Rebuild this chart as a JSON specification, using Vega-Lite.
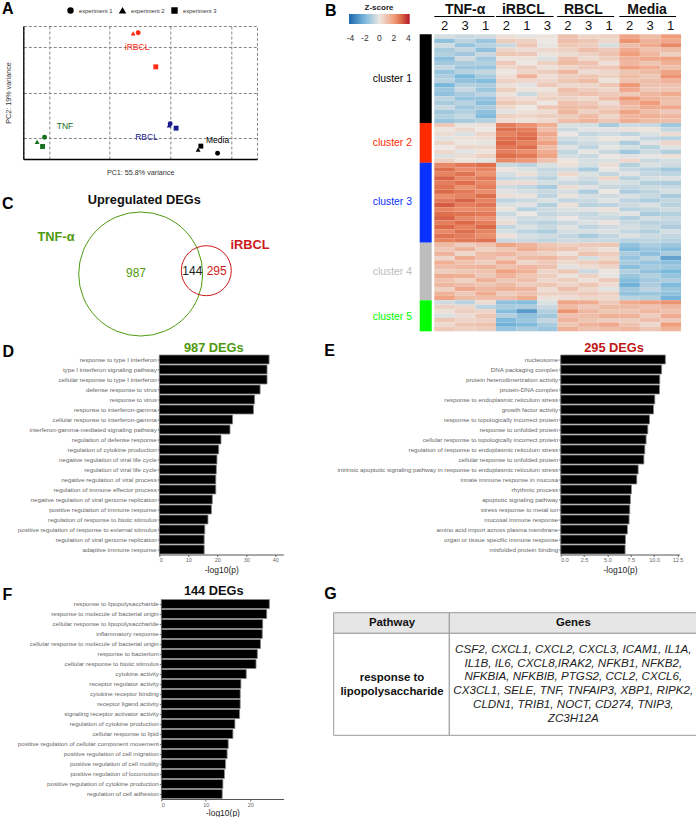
{"$schema":"https://vega.github.io/schema/vega-lite/v6.json","padding":0,"config":{"font":"Liberation Sans","view":{"stroke":null}},"datasets":{"blank":[{"a":1}]},"spacing":0,"bounds":"flush","hconcat":[
{"spacing":433.3,"bounds":"flush","hconcat":[{"width":0.01,"height":0.01,"data":{"name":"blank"},"mark":{"type":"rect","opacity":0},"encoding":{}},{"spacing":0,"bounds":"flush","vconcat":[{"width":0.01,"height":0.01,"data":{"name":"blank"},"mark":{"type":"rect","opacity":0},"encoding":{}},
{"width":246.7,"height":33.3,"title":{"text":"B","anchor":"start","frame":"group","offset":0,"dx":-109.3,"dy":31,"fontSize":16,"fontWeight":"bold","color":"black","baseline":"alphabetic"},"data":{"values":[{"g":"TNF-α","s":0,"e":2.93,"m":1.5},{"g":"iRBCL","s":3,"e":5.8,"m":4.33},{"g":"RBCL","s":5.98,"e":8.75,"m":7.25},{"g":"Media","s":9,"e":11.76,"m":10.35}]},"layer":[
{"mark":{"type":"rule","color":"black","strokeWidth":1},"encoding":{"x":{"field":"s","type":"quantitative","scale":{"domain":[0,12],"nice":false},"axis":null},"x2":{"field":"e"},"y":{"datum":17.8,"type":"quantitative","scale":{"domain":[0,33.3],"nice":false},"axis":null}}},
{"mark":{"type":"text","fontSize":14,"fontWeight":"bold","baseline":"bottom","dy":0,"color":"#111"},"encoding":{"x":{"field":"m","type":"quantitative"},"y":{"datum":17.8,"type":"quantitative"},"text":{"field":"g"}}}
]}]}]},
{"spacing":22.3,"bounds":"flush","hconcat":[{"width":0.01,"height":0.01,"data":{"name":"blank"},"mark":{"type":"rect","opacity":0},"encoding":{}},{"spacing":25,"bounds":"flush","vconcat":[{"width":0.01,"height":0.01,"data":{"name":"blank"},"mark":{"type":"rect","opacity":0},"encoding":{}},
{"width":233.7,"height":133,"view":{"stroke":"#888","strokeDash":[3,2]},"title":{"text":"A","anchor":"start","frame":"group","offset":0,"dx":-21.3,"dy":3.7,"fontSize":16,"fontWeight":"bold","color":"black","baseline":"alphabetic"},"layer":[
{"data":{"values":[{"pc1":-63,"pc2":-12,"g":"TNF","e":"experiment 1"},{"pc1":-67.9,"pc2":-14.6,"g":"TNF","e":"experiment 2"},{"pc1":-64.3,"pc2":-17.1,"g":"TNF","e":"experiment 3"},{"pc1":-1.3,"pc2":45.6,"g":"iRBCL","e":"experiment 1"},{"pc1":-4.6,"pc2":45.2,"g":"iRBCL","e":"experiment 2"},{"pc1":10.3,"pc2":26.8,"g":"iRBCL","e":"experiment 3"},{"pc1":19.8,"pc2":-4.6,"g":"RBCL","e":"experiment 1"},{"pc1":19.1,"pc2":-5.5,"g":"RBCL","e":"experiment 2"},{"pc1":23.7,"pc2":-7,"g":"RBCL","e":"experiment 3"},{"pc1":51,"pc2":-20.8,"g":"Media","e":"experiment 1"},{"pc1":38.2,"pc2":-18.8,"g":"Media","e":"experiment 2"},{"pc1":40,"pc2":-16.9,"g":"Media","e":"experiment 3"}]},"mark":{"type":"point","filled":true,"opacity":1,"size":24},"encoding":{"x":{"field":"pc1","type":"quantitative","scale":{"domain":[-77,77],"nice":false,"zero":false},"axis":{"values":[-60,-40,-20,0,20,40,60],"labelExpr":"datum.value==-40?'-40':datum.value==0||datum.value==40?datum.label:''","title":"PC1: 55.8% variance","titleFontSize":7.2,"titleFontWeight":"normal","titleColor":"#333","titlePadding":1,"labelFontSize":5,"labelColor":"#777","labelPadding":3,"tickSize":0,"grid":true,"gridColor":"#888","gridDash":[3,2],"gridOpacity":1,"domainColor":"black","domainWidth":1.3}},"y":{"field":"pc2","type":"quantitative","scale":{"domain":[-24,49.3],"nice":false,"zero":false},"axis":{"values":[-12.5,0,12.5,25,37.5],"labelExpr":"datum.value==25||datum.value==0?datum.label:''","title":"PC2: 19% variance","titleFontSize":7.2,"titleFontWeight":"normal","titleColor":"#333","titlePadding":9,"labelFontSize":5,"labelColor":"#777","labelPadding":2,"tickSize":0,"grid":true,"gridColor":"#888","gridDash":[3,2],"gridOpacity":1,"domainColor":"black","domainWidth":1.3}},"color":{"field":"g","type":"nominal","scale":{"domain":["TNF","iRBCL","RBCL","Media"],"range":["#12701a","#ff2a12","#1a1a8e","#000000"]},"legend":null},"shape":{"field":"e","type":"nominal","scale":{"domain":["experiment 1","experiment 2","experiment 3"],"range":["circle","triangle-up","square"]},"legend":{"orient":"none","legendX":67,"legendY":7,"direction":"horizontal","columns":3,"title":null,"labelFontSize":5.8,"labelColor":"#333","symbolFillColor":"black","symbolStrokeColor":"black","symbolSize":24,"columnPadding":4,"labelOffset":5}}}},
{"data":{"values":[{"pc1":-2,"pc2":37.5,"g":"iRBCL"},{"pc1":-49.5,"pc2":-5.8,"g":"TNF"},{"pc1":4.2,"pc2":-12,"g":"RBCL"},{"pc1":51,"pc2":-13.4,"g":"Media"}]},"mark":{"type":"text","fontSize":8.5},"encoding":{"x":{"field":"pc1","type":"quantitative"},"y":{"field":"pc2","type":"quantitative"},"text":{"field":"g"},"color":{"field":"g","type":"nominal","legend":null}}}
]}]}]},
{"spacing":418.7,"bounds":"flush","hconcat":[{"width":0.01,"height":0.01,"data":{"name":"blank"},"mark":{"type":"rect","opacity":0},"encoding":{}},{"spacing":33.3,"bounds":"flush","vconcat":[{"width":0.01,"height":0.01,"data":{"name":"blank"},"mark":{"type":"rect","opacity":0},"encoding":{}},
{"width":12,"height":297,"data":{"values":[{"k":"bar","cl":"cluster 1","s":0,"e":20,"m":10},{"k":"bar","cl":"cluster 2","s":20,"e":29,"m":24.5},{"k":"bar","cl":"cluster 3","s":29,"e":47,"m":37.8},{"k":"bar","cl":"cluster 4","s":47,"e":60,"m":53.6},{"k":"bar","cl":"cluster 5","s":60,"e":67,"m":63.7}]},"layer":[
{"mark":{"type":"rect"},"encoding":{"x":{"field":"k","type":"nominal","scale":{"paddingInner":0,"paddingOuter":0},"axis":null},"y":{"field":"s","type":"quantitative","scale":{"domain":[67,0],"nice":false,"zero":false},"axis":null},"y2":{"field":"e"},"color":{"field":"cl","type":"nominal","scale":{"domain":["cluster 1","cluster 2","cluster 3","cluster 4","cluster 5"],"range":["#000000","#ff2a00","#0a32ff","#bdbdbd","#00ff00"]},"legend":null}}},
{"mark":{"type":"text","fontSize":10.4,"align":"right","dx":-13.7},"encoding":{"x":{"field":"k","type":"nominal"},"y":{"field":"m","type":"quantitative"},"text":{"field":"cl"},"color":{"field":"cl","type":"nominal","legend":null}}}
]}]}]},
{"spacing":433.3,"bounds":"flush","hconcat":[{"width":0.01,"height":0.01,"data":{"name":"blank"},"mark":{"type":"rect","opacity":0},"encoding":{}},{"spacing":33.3,"bounds":"flush","vconcat":[{"width":0.01,"height":0.01,"data":{"name":"blank"},"mark":{"type":"rect","opacity":0},"encoding":{}},
{"width":246.7,"height":297,"data":{"values":[
{"r":1,"c":"T2","z":-0.4},{"r":1,"c":"T3","z":-0.6},{"r":1,"c":"T1","z":-0.5},{"r":1,"c":"I2","z":0.2},{"r":1,"c":"I1","z":-0.1},{"r":1,"c":"I3","z":0.1},{"r":1,"c":"R2","z":1},{"r":1,"c":"R3","z":0.5},{"r":1,"c":"R1","z":0.6},{"r":1,"c":"M2","z":1.8},{"r":1,"c":"M3","z":1.2},{"r":1,"c":"M1","z":2},
{"r":2,"c":"T2","z":-1.6},{"r":2,"c":"T3","z":-0.8},{"r":2,"c":"T1","z":-1.4},{"r":2,"c":"I2","z":0.7},{"r":2,"c":"I1","z":0.6},{"r":2,"c":"I3","z":0},{"r":2,"c":"R2","z":1.1},{"r":2,"c":"R3","z":0.9},{"r":2,"c":"R1","z":0.4},{"r":2,"c":"M2","z":2.2},{"r":2,"c":"M3","z":1.4},{"r":2,"c":"M1","z":1.7},
{"r":3,"c":"T2","z":-0.5},{"r":3,"c":"T3","z":-1.5},{"r":3,"c":"T1","z":-0.9},{"r":3,"c":"I2","z":-0.6},{"r":3,"c":"I1","z":0.9},{"r":3,"c":"I3","z":-0.1},{"r":3,"c":"R2","z":0.9},{"r":3,"c":"R3","z":0.7},{"r":3,"c":"R1","z":-0.4},{"r":3,"c":"M2","z":1.1},{"r":3,"c":"M3","z":1.6},{"r":3,"c":"M1","z":2.4},
{"r":4,"c":"T2","z":-1.2},{"r":4,"c":"T3","z":-0.7},{"r":4,"c":"T1","z":-1.6},{"r":4,"c":"I2","z":0.5},{"r":4,"c":"I1","z":0.3},{"r":4,"c":"I3","z":0.4},{"r":4,"c":"R2","z":0.6},{"r":4,"c":"R3","z":1.1},{"r":4,"c":"R1","z":0.8},{"r":4,"c":"M2","z":1.6},{"r":4,"c":"M3","z":1},{"r":4,"c":"M1","z":1.2},
{"r":5,"c":"T2","z":-1},{"r":5,"c":"T3","z":-1.3},{"r":5,"c":"T1","z":-0.6},{"r":5,"c":"I2","z":0.9},{"r":5,"c":"I1","z":0.8},{"r":5,"c":"I3","z":0.1},{"r":5,"c":"R2","z":0.3},{"r":5,"c":"R3","z":0.6},{"r":5,"c":"R1","z":1},{"r":5,"c":"M2","z":2},{"r":5,"c":"M3","z":1.3},{"r":5,"c":"M1","z":0.6},
{"r":6,"c":"T2","z":-1.7},{"r":6,"c":"T3","z":-0.5},{"r":6,"c":"T1","z":-1.3},{"r":6,"c":"I2","z":0.1},{"r":6,"c":"I1","z":0.2},{"r":6,"c":"I3","z":-0.3},{"r":6,"c":"R2","z":1},{"r":6,"c":"R3","z":0.4},{"r":6,"c":"R1","z":0.7},{"r":6,"c":"M2","z":1.5},{"r":6,"c":"M3","z":1.7},{"r":6,"c":"M1","z":1.9},
{"r":7,"c":"T2","z":-1.3},{"r":7,"c":"T3","z":-1.1},{"r":7,"c":"T1","z":-1},{"r":7,"c":"I2","z":0.8},{"r":7,"c":"I1","z":0},{"r":7,"c":"I3","z":0.6},{"r":7,"c":"R2","z":1.2},{"r":7,"c":"R3","z":1},{"r":7,"c":"R1","z":0.2},{"r":7,"c":"M2","z":1.3},{"r":7,"c":"M3","z":0.9},{"r":7,"c":"M1","z":1.5},
{"r":8,"c":"T2","z":-0.7},{"r":8,"c":"T3","z":-1.4},{"r":8,"c":"T1","z":-1.5},{"r":8,"c":"I2","z":0.4},{"r":8,"c":"I1","z":0.7},{"r":8,"c":"I3","z":0.2},{"r":8,"c":"R2","z":0.5},{"r":8,"c":"R3","z":0.8},{"r":8,"c":"R1","z":0.9},{"r":8,"c":"M2","z":1.9},{"r":8,"c":"M3","z":1.5},{"r":8,"c":"M1","z":1.1},
{"r":9,"c":"T2","z":-1.5},{"r":9,"c":"T3","z":-0.9},{"r":9,"c":"T1","z":-0.7},{"r":9,"c":"I2","z":0},{"r":9,"c":"I1","z":0.5},{"r":9,"c":"I3","z":0.7},{"r":9,"c":"R2","z":1.3},{"r":9,"c":"R3","z":0.3},{"r":9,"c":"R1","z":0.5},{"r":9,"c":"M2","z":0.9},{"r":9,"c":"M3","z":1.2},{"r":9,"c":"M1","z":1.8},
{"r":10,"c":"T2","z":-1.1},{"r":10,"c":"T3","z":-2},{"r":10,"c":"T1","z":-1.2},{"r":10,"c":"I2","z":0.3},{"r":10,"c":"I1","z":1.4},{"r":10,"c":"I3","z":0.3},{"r":10,"c":"R2","z":0.7},{"r":10,"c":"R3","z":0.9},{"r":10,"c":"R1","z":0.6},{"r":10,"c":"M2","z":1.2},{"r":10,"c":"M3","z":0.8},{"r":10,"c":"M1","z":2.2},
{"r":11,"c":"T2","z":-0.9},{"r":11,"c":"T3","z":-1.6},{"r":11,"c":"T1","z":-1.8},{"r":11,"c":"I2","z":0.6},{"r":11,"c":"I1","z":0.4},{"r":11,"c":"I3","z":0.5},{"r":11,"c":"R2","z":0.9},{"r":11,"c":"R3","z":1.2},{"r":11,"c":"R1","z":0.1},{"r":11,"c":"M2","z":1},{"r":11,"c":"M3","z":1.1},{"r":11,"c":"M1","z":1.4},
{"r":12,"c":"T2","z":-2},{"r":12,"c":"T3","z":-1},{"r":12,"c":"T1","z":-1.1},{"r":12,"c":"I2","z":0.2},{"r":12,"c":"I1","z":-0.2},{"r":12,"c":"I3","z":0.8},{"r":12,"c":"R2","z":0.4},{"r":12,"c":"R3","z":0.5},{"r":12,"c":"R1","z":0.9},{"r":12,"c":"M2","z":2.1},{"r":12,"c":"M3","z":1},{"r":12,"c":"M1","z":1},
{"r":13,"c":"T2","z":-1.4},{"r":13,"c":"T3","z":-0.6},{"r":13,"c":"T1","z":-1.4},{"r":13,"c":"I2","z":0.7},{"r":13,"c":"I1","z":0.1},{"r":13,"c":"I3","z":0.1},{"r":13,"c":"R2","z":1.1},{"r":13,"c":"R3","z":0.7},{"r":13,"c":"R1","z":0.4},{"r":13,"c":"M2","z":1.7},{"r":13,"c":"M3","z":0.8},{"r":13,"c":"M1","z":0.9},
{"r":14,"c":"T2","z":-1.6},{"r":14,"c":"T3","z":-1.2},{"r":14,"c":"T1","z":-0.8},{"r":14,"c":"I2","z":0.1},{"r":14,"c":"I1","z":-0.6},{"r":14,"c":"I3","z":0.4},{"r":14,"c":"R2","z":0.8},{"r":14,"c":"R3","z":1},{"r":14,"c":"R1","z":0.8},{"r":14,"c":"M2","z":0.8},{"r":14,"c":"M3","z":1.3},{"r":14,"c":"M1","z":1.6},
{"r":15,"c":"T2","z":-0.8},{"r":15,"c":"T3","z":-1.5},{"r":15,"c":"T1","z":-1.5},{"r":15,"c":"I2","z":0.5},{"r":15,"c":"I1","z":0.3},{"r":15,"c":"I3","z":0.6},{"r":15,"c":"R2","z":0.6},{"r":15,"c":"R3","z":0.4},{"r":15,"c":"R1","z":1.1},{"r":15,"c":"M2","z":2.1},{"r":15,"c":"M3","z":1.4},{"r":15,"c":"M1","z":1.2},
{"r":16,"c":"T2","z":-1.2},{"r":16,"c":"T3","z":-0.9},{"r":16,"c":"T1","z":-1.7},{"r":16,"c":"I2","z":0.9},{"r":16,"c":"I1","z":0.6},{"r":16,"c":"I3","z":0},{"r":16,"c":"R2","z":1},{"r":16,"c":"R3","z":0.8},{"r":16,"c":"R1","z":0.3},{"r":16,"c":"M2","z":1.4},{"r":16,"c":"M3","z":2},{"r":16,"c":"M1","z":1},
{"r":17,"c":"T2","z":-0.6},{"r":17,"c":"T3","z":-1.3},{"r":17,"c":"T1","z":-1.1},{"r":17,"c":"I2","z":0.4},{"r":17,"c":"I1","z":0},{"r":17,"c":"I3","z":0.9},{"r":17,"c":"R2","z":1.2},{"r":17,"c":"R3","z":1.1},{"r":17,"c":"R1","z":0.7},{"r":17,"c":"M2","z":1.1},{"r":17,"c":"M3","z":1.6},{"r":17,"c":"M1","z":1.7},
{"r":18,"c":"T2","z":-1.3},{"r":18,"c":"T3","z":-1},{"r":18,"c":"T1","z":-1.6},{"r":18,"c":"I2","z":-0.2},{"r":18,"c":"I1","z":0.2},{"r":18,"c":"I3","z":0.3},{"r":18,"c":"R2","z":1.3},{"r":18,"c":"R3","z":0.6},{"r":18,"c":"R1","z":1},{"r":18,"c":"M2","z":1.8},{"r":18,"c":"M3","z":1.1},{"r":18,"c":"M1","z":0.8},
{"r":19,"c":"T2","z":-1},{"r":19,"c":"T3","z":-0.7},{"r":19,"c":"T1","z":-1.9},{"r":19,"c":"I2","z":0.6},{"r":19,"c":"I1","z":0.5},{"r":19,"c":"I3","z":0.7},{"r":19,"c":"R2","z":0.7},{"r":19,"c":"R3","z":1.2},{"r":19,"c":"R1","z":0.5},{"r":19,"c":"M2","z":1.3},{"r":19,"c":"M3","z":1.5},{"r":19,"c":"M1","z":1.3},
{"r":20,"c":"T2","z":-1.5},{"r":20,"c":"T3","z":-1.2},{"r":20,"c":"T1","z":-1},{"r":20,"c":"I2","z":0.3},{"r":20,"c":"I1","z":0.1},{"r":20,"c":"I3","z":0.4},{"r":20,"c":"R2","z":1.1},{"r":20,"c":"R3","z":1.4},{"r":20,"c":"R1","z":0.9},{"r":20,"c":"M2","z":1.6},{"r":20,"c":"M3","z":1.2},{"r":20,"c":"M1","z":1.1},
{"r":21,"c":"T2","z":0.8},{"r":21,"c":"T3","z":-0.1},{"r":21,"c":"T1","z":0.2},{"r":21,"c":"I2","z":2.6},{"r":21,"c":"I1","z":2.2},{"r":21,"c":"I3","z":1.5},{"r":21,"c":"R2","z":-0.3},{"r":21,"c":"R3","z":-0.4},{"r":21,"c":"R1","z":-1.2},{"r":21,"c":"M2","z":-0.5},{"r":21,"c":"M3","z":-0.6},{"r":21,"c":"M1","z":-1.3},
{"r":22,"c":"T2","z":0.1},{"r":22,"c":"T3","z":0.4},{"r":22,"c":"T1","z":0},{"r":22,"c":"I2","z":2.9},{"r":22,"c":"I1","z":2.6},{"r":22,"c":"I3","z":1.1},{"r":22,"c":"R2","z":-0.6},{"r":22,"c":"R3","z":-0.2},{"r":22,"c":"R1","z":-0.2},{"r":22,"c":"M2","z":0.2},{"r":22,"c":"M3","z":0.1},{"r":22,"c":"M1","z":-0.7},
{"r":23,"c":"T2","z":0.3},{"r":23,"c":"T3","z":-0.3},{"r":23,"c":"T1","z":0.5},{"r":23,"c":"I2","z":2.5},{"r":23,"c":"I1","z":2.8},{"r":23,"c":"I3","z":1.7},{"r":23,"c":"R2","z":0},{"r":23,"c":"R3","z":-0.7},{"r":23,"c":"R1","z":-0.5},{"r":23,"c":"M2","z":-0.8},{"r":23,"c":"M3","z":-0.3},{"r":23,"c":"M1","z":0.3},
{"r":24,"c":"T2","z":-0.2},{"r":24,"c":"T3","z":0.2},{"r":24,"c":"T1","z":0.3},{"r":24,"c":"I2","z":2.8},{"r":24,"c":"I1","z":3},{"r":24,"c":"I3","z":1.4},{"r":24,"c":"R2","z":-0.5},{"r":24,"c":"R3","z":-0.3},{"r":24,"c":"R1","z":0.1},{"r":24,"c":"M2","z":-0.1},{"r":24,"c":"M3","z":-0.7},{"r":24,"c":"M1","z":-0.9},
{"r":25,"c":"T2","z":0.5},{"r":25,"c":"T3","z":0},{"r":25,"c":"T1","z":-0.1},{"r":25,"c":"I2","z":3},{"r":25,"c":"I1","z":2.5},{"r":25,"c":"I3","z":1.9},{"r":25,"c":"R2","z":-0.8},{"r":25,"c":"R3","z":-0.5},{"r":25,"c":"R1","z":-0.4},{"r":25,"c":"M2","z":-1.1},{"r":25,"c":"M3","z":-0.2},{"r":25,"c":"M1","z":0.5},
{"r":26,"c":"T2","z":0},{"r":26,"c":"T3","z":0.5},{"r":26,"c":"T1","z":0.4},{"r":26,"c":"I2","z":2.7},{"r":26,"c":"I1","z":2.9},{"r":26,"c":"I3","z":1.2},{"r":26,"c":"R2","z":-0.2},{"r":26,"c":"R3","z":-0.8},{"r":26,"c":"R1","z":-0.1},{"r":26,"c":"M2","z":-0.4},{"r":26,"c":"M3","z":-0.9},{"r":26,"c":"M1","z":-0.2},
{"r":27,"c":"T2","z":0.4},{"r":27,"c":"T3","z":-0.2},{"r":27,"c":"T1","z":0.1},{"r":27,"c":"I2","z":2.6},{"r":27,"c":"I1","z":2.3},{"r":27,"c":"I3","z":1.6},{"r":27,"c":"R2","z":-0.7},{"r":27,"c":"R3","z":-0.1},{"r":27,"c":"R1","z":-0.6},{"r":27,"c":"M2","z":-1.3},{"r":27,"c":"M3","z":-0.5},{"r":27,"c":"M1","z":-1},
{"r":28,"c":"T2","z":-0.3},{"r":28,"c":"T3","z":0.3},{"r":28,"c":"T1","z":0.6},{"r":28,"c":"I2","z":2.9},{"r":28,"c":"I1","z":2.7},{"r":28,"c":"I3","z":1.8},{"r":28,"c":"R2","z":-0.4},{"r":28,"c":"R3","z":-0.6},{"r":28,"c":"R1","z":0},{"r":28,"c":"M2","z":-0.2},{"r":28,"c":"M3","z":-0.1},{"r":28,"c":"M1","z":0.2},
{"r":29,"c":"T2","z":0.6},{"r":29,"c":"T3","z":0.1},{"r":29,"c":"T1","z":-0.2},{"r":29,"c":"I2","z":2.4},{"r":29,"c":"I1","z":2.1},{"r":29,"c":"I3","z":1},{"r":29,"c":"R2","z":0.1},{"r":29,"c":"R3","z":-0.4},{"r":29,"c":"R1","z":-0.3},{"r":29,"c":"M2","z":0.4},{"r":29,"c":"M3","z":-0.6},{"r":29,"c":"M1","z":-0.4},
{"r":30,"c":"T2","z":2.4},{"r":30,"c":"T3","z":2.7},{"r":30,"c":"T1","z":2.9},{"r":30,"c":"I2","z":-0.6},{"r":30,"c":"I1","z":-0.8},{"r":30,"c":"I3","z":-0.3},{"r":30,"c":"R2","z":0.2},{"r":30,"c":"R3","z":-0.4},{"r":30,"c":"R1","z":0.3},{"r":30,"c":"M2","z":-1},{"r":30,"c":"M3","z":-0.3},{"r":30,"c":"M1","z":-0.5},
{"r":31,"c":"T2","z":2.9},{"r":31,"c":"T3","z":2.3},{"r":31,"c":"T1","z":2.5},{"r":31,"c":"I2","z":0.1},{"r":31,"c":"I1","z":-0.3},{"r":31,"c":"I3","z":-0.7},{"r":31,"c":"R2","z":-0.5},{"r":31,"c":"R3","z":-1.2},{"r":31,"c":"R1","z":-0.1},{"r":31,"c":"M2","z":-0.6},{"r":31,"c":"M3","z":-0.9},{"r":31,"c":"M1","z":-1.3},
{"r":32,"c":"T2","z":2.5},{"r":32,"c":"T3","z":2.8},{"r":32,"c":"T1","z":2.2},{"r":32,"c":"I2","z":-0.4},{"r":32,"c":"I1","z":0.2},{"r":32,"c":"I3","z":-0.5},{"r":32,"c":"R2","z":0.4},{"r":32,"c":"R3","z":-0.3},{"r":32,"c":"R1","z":-0.7},{"r":32,"c":"M2","z":-0.2},{"r":32,"c":"M3","z":-0.7},{"r":32,"c":"M1","z":-0.8},
{"r":33,"c":"T2","z":3.1},{"r":33,"c":"T3","z":2.4},{"r":33,"c":"T1","z":2.7},{"r":33,"c":"I2","z":-0.7},{"r":33,"c":"I1","z":-0.5},{"r":33,"c":"I3","z":-0.9},{"r":33,"c":"R2","z":-0.2},{"r":33,"c":"R3","z":-0.5},{"r":33,"c":"R1","z":0.5},{"r":33,"c":"M2","z":-0.9},{"r":33,"c":"M3","z":-0.4},{"r":33,"c":"M1","z":-0.3},
{"r":34,"c":"T2","z":2.6},{"r":34,"c":"T3","z":2.9},{"r":34,"c":"T1","z":2.4},{"r":34,"c":"I2","z":0.3},{"r":34,"c":"I1","z":0.3},{"r":34,"c":"I3","z":-0.4},{"r":34,"c":"R2","z":-0.6},{"r":34,"c":"R3","z":-0.8},{"r":34,"c":"R1","z":-0.3},{"r":34,"c":"M2","z":-0.4},{"r":34,"c":"M3","z":-1},{"r":34,"c":"M1","z":-1.1},
{"r":35,"c":"T2","z":2.8},{"r":35,"c":"T3","z":2.2},{"r":35,"c":"T1","z":2.6},{"r":35,"c":"I2","z":-0.5},{"r":35,"c":"I1","z":-0.7},{"r":35,"c":"I3","z":-1.2},{"r":35,"c":"R2","z":0.3},{"r":35,"c":"R3","z":-0.2},{"r":35,"c":"R1","z":-0.6},{"r":35,"c":"M2","z":-0.7},{"r":35,"c":"M3","z":-0.5},{"r":35,"c":"M1","z":-0.6},
{"r":36,"c":"T2","z":3},{"r":36,"c":"T3","z":2.7},{"r":36,"c":"T1","z":2.3},{"r":36,"c":"I2","z":-0.2},{"r":36,"c":"I1","z":-0.4},{"r":36,"c":"I3","z":-0.6},{"r":36,"c":"R2","z":-0.4},{"r":36,"c":"R3","z":-1.1},{"r":36,"c":"R1","z":0},{"r":36,"c":"M2","z":-1.1},{"r":36,"c":"M3","z":-0.8},{"r":36,"c":"M1","z":-0.4},
{"r":37,"c":"T2","z":2.3},{"r":37,"c":"T3","z":2.5},{"r":37,"c":"T1","z":2.9},{"r":37,"c":"I2","z":0.2},{"r":37,"c":"I1","z":0.1},{"r":37,"c":"I3","z":-0.8},{"r":37,"c":"R2","z":0.1},{"r":37,"c":"R3","z":-0.4},{"r":37,"c":"R1","z":-0.5},{"r":37,"c":"M2","z":-0.3},{"r":37,"c":"M3","z":-0.6},{"r":37,"c":"M1","z":-1.2},
{"r":38,"c":"T2","z":2.7},{"r":38,"c":"T3","z":3.1},{"r":38,"c":"T1","z":2.5},{"r":38,"c":"I2","z":-0.8},{"r":38,"c":"I1","z":-0.6},{"r":38,"c":"I3","z":-0.3},{"r":38,"c":"R2","z":-0.7},{"r":38,"c":"R3","z":-0.6},{"r":38,"c":"R1","z":-0.2},{"r":38,"c":"M2","z":-0.8},{"r":38,"c":"M3","z":-1.1},{"r":38,"c":"M1","z":-0.7},
{"r":39,"c":"T2","z":3.2},{"r":39,"c":"T3","z":2.6},{"r":39,"c":"T1","z":2.8},{"r":39,"c":"I2","z":-0.3},{"r":39,"c":"I1","z":-0.2},{"r":39,"c":"I3","z":-1},{"r":39,"c":"R2","z":0.2},{"r":39,"c":"R3","z":-0.9},{"r":39,"c":"R1","z":-0.8},{"r":39,"c":"M2","z":-0.5},{"r":39,"c":"M3","z":-0.3},{"r":39,"c":"M1","z":-0.9},
{"r":40,"c":"T2","z":2.5},{"r":40,"c":"T3","z":2.3},{"r":40,"c":"T1","z":2.4},{"r":40,"c":"I2","z":0.1},{"r":40,"c":"I1","z":-0.9},{"r":40,"c":"I3","z":-0.5},{"r":40,"c":"R2","z":-0.3},{"r":40,"c":"R3","z":-0.2},{"r":40,"c":"R1","z":0.2},{"r":40,"c":"M2","z":-0.9},{"r":40,"c":"M3","z":-0.7},{"r":40,"c":"M1","z":-0.5},
{"r":41,"c":"T2","z":2.9},{"r":41,"c":"T3","z":2.8},{"r":41,"c":"T1","z":2.7},{"r":41,"c":"I2","z":-0.6},{"r":41,"c":"I1","z":0},{"r":41,"c":"I3","z":-0.7},{"r":41,"c":"R2","z":-0.5},{"r":41,"c":"R3","z":-0.7},{"r":41,"c":"R1","z":-0.4},{"r":41,"c":"M2","z":-0.2},{"r":41,"c":"M3","z":-1.2},{"r":41,"c":"M1","z":-1},
{"r":42,"c":"T2","z":3.1},{"r":42,"c":"T3","z":2.4},{"r":42,"c":"T1","z":2.2},{"r":42,"c":"I2","z":-0.2},{"r":42,"c":"I1","z":-0.5},{"r":42,"c":"I3","z":-0.4},{"r":42,"c":"R2","z":0},{"r":42,"c":"R3","z":-0.5},{"r":42,"c":"R1","z":-0.6},{"r":42,"c":"M2","z":-1},{"r":42,"c":"M3","z":-0.4},{"r":42,"c":"M1","z":-0.6},
{"r":43,"c":"T2","z":2.6},{"r":43,"c":"T3","z":3},{"r":43,"c":"T1","z":2.6},{"r":43,"c":"I2","z":0.3},{"r":43,"c":"I1","z":-0.7},{"r":43,"c":"I3","z":-0.9},{"r":43,"c":"R2","z":-0.6},{"r":43,"c":"R3","z":-0.3},{"r":43,"c":"R1","z":0.1},{"r":43,"c":"M2","z":-0.6},{"r":43,"c":"M3","z":-0.9},{"r":43,"c":"M1","z":-0.8},
{"r":44,"c":"T2","z":3},{"r":44,"c":"T3","z":2.5},{"r":44,"c":"T1","z":3},{"r":44,"c":"I2","z":-0.7},{"r":44,"c":"I1","z":-0.3},{"r":44,"c":"I3","z":-0.6},{"r":44,"c":"R2","z":-0.2},{"r":44,"c":"R3","z":-0.8},{"r":44,"c":"R1","z":-0.5},{"r":44,"c":"M2","z":-0.4},{"r":44,"c":"M3","z":-0.6},{"r":44,"c":"M1","z":-1.1},
{"r":45,"c":"T2","z":2.4},{"r":45,"c":"T3","z":2.9},{"r":45,"c":"T1","z":2.5},{"r":45,"c":"I2","z":-0.4},{"r":45,"c":"I1","z":-0.8},{"r":45,"c":"I3","z":-1.1},{"r":45,"c":"R2","z":-0.4},{"r":45,"c":"R3","z":-0.4},{"r":45,"c":"R1","z":-0.3},{"r":45,"c":"M2","z":-0.7},{"r":45,"c":"M3","z":-1},{"r":45,"c":"M1","z":-0.4},
{"r":46,"c":"T2","z":2.8},{"r":46,"c":"T3","z":2.6},{"r":46,"c":"T1","z":2.3},{"r":46,"c":"I2","z":0.2},{"r":46,"c":"I1","z":-0.4},{"r":46,"c":"I3","z":-0.5},{"r":46,"c":"R2","z":-0.7},{"r":46,"c":"R3","z":-1.2},{"r":46,"c":"R1","z":-0.7},{"r":46,"c":"M2","z":-0.3},{"r":46,"c":"M3","z":-0.5},{"r":46,"c":"M1","z":-0.7},
{"r":47,"c":"T2","z":2.5},{"r":47,"c":"T3","z":2.7},{"r":47,"c":"T1","z":2.8},{"r":47,"c":"I2","z":-0.6},{"r":47,"c":"I1","z":-0.6},{"r":47,"c":"I3","z":-0.8},{"r":47,"c":"R2","z":-0.5},{"r":47,"c":"R3","z":-0.6},{"r":47,"c":"R1","z":-0.6},{"r":47,"c":"M2","z":-0.9},{"r":47,"c":"M3","z":-0.8},{"r":47,"c":"M1","z":-0.9},
{"r":48,"c":"T2","z":1.2},{"r":48,"c":"T3","z":0.7},{"r":48,"c":"T1","z":1},{"r":48,"c":"I2","z":1.8},{"r":48,"c":"I1","z":1.4},{"r":48,"c":"I3","z":0.9},{"r":48,"c":"R2","z":0.6},{"r":48,"c":"R3","z":0.8},{"r":48,"c":"R1","z":0.9},{"r":48,"c":"M2","z":-1.6},{"r":48,"c":"M3","z":-1.1},{"r":48,"c":"M1","z":-1.4},
{"r":49,"c":"T2","z":0.8},{"r":49,"c":"T3","z":1.4},{"r":49,"c":"T1","z":0.6},{"r":49,"c":"I2","z":0.9},{"r":49,"c":"I1","z":1.6},{"r":49,"c":"I3","z":1.1},{"r":49,"c":"R2","z":1},{"r":49,"c":"R3","z":0.5},{"r":49,"c":"R1","z":0.2},{"r":49,"c":"M2","z":-1.9},{"r":49,"c":"M3","z":-1.4},{"r":49,"c":"M1","z":-1.8},
{"r":50,"c":"T2","z":1.4},{"r":50,"c":"T3","z":0.4},{"r":50,"c":"T1","z":1.2},{"r":50,"c":"I2","z":1.3},{"r":50,"c":"I1","z":0.8},{"r":50,"c":"I3","z":0.6},{"r":50,"c":"R2","z":0.2},{"r":50,"c":"R3","z":1},{"r":50,"c":"R1","z":0.7},{"r":50,"c":"M2","z":-1.1},{"r":50,"c":"M3","z":-1.7},{"r":50,"c":"M1","z":-1.2},
{"r":51,"c":"T2","z":0.5},{"r":51,"c":"T3","z":1.6},{"r":51,"c":"T1","z":1.1},{"r":51,"c":"I2","z":0.7},{"r":51,"c":"I1","z":1.2},{"r":51,"c":"I3","z":1.3},{"r":51,"c":"R2","z":0.8},{"r":51,"c":"R3","z":-0.4},{"r":51,"c":"R1","z":0.4},{"r":51,"c":"M2","z":-1.5},{"r":51,"c":"M3","z":-0.9},{"r":51,"c":"M1","z":-2.6},
{"r":52,"c":"T2","z":1.5},{"r":52,"c":"T3","z":1},{"r":52,"c":"T1","z":0.7},{"r":52,"c":"I2","z":1.6},{"r":52,"c":"I1","z":0.5},{"r":52,"c":"I3","z":0.8},{"r":52,"c":"R2","z":0.4},{"r":52,"c":"R3","z":0.7},{"r":52,"c":"R1","z":1},{"r":52,"c":"M2","z":-1.2},{"r":52,"c":"M3","z":-1.5},{"r":52,"c":"M1","z":-1.7},
{"r":53,"c":"T2","z":1.1},{"r":53,"c":"T3","z":1.3},{"r":53,"c":"T1","z":1.4},{"r":53,"c":"I2","z":1},{"r":53,"c":"I1","z":1.3},{"r":53,"c":"I3","z":1},{"r":53,"c":"R2","z":-0.2},{"r":53,"c":"R3","z":0.3},{"r":53,"c":"R1","z":0.5},{"r":53,"c":"M2","z":-1.7},{"r":53,"c":"M3","z":-1.2},{"r":53,"c":"M1","z":-1.3},
{"r":54,"c":"T2","z":0.7},{"r":54,"c":"T3","z":0.9},{"r":54,"c":"T1","z":1},{"r":54,"c":"I2","z":1.9},{"r":54,"c":"I1","z":1.5},{"r":54,"c":"I3","z":0.5},{"r":54,"c":"R2","z":0.9},{"r":54,"c":"R3","z":-0.6},{"r":54,"c":"R1","z":0.1},{"r":54,"c":"M2","z":-1},{"r":54,"c":"M3","z":-1.6},{"r":54,"c":"M1","z":-2},
{"r":55,"c":"T2","z":1.6},{"r":55,"c":"T3","z":1.5},{"r":55,"c":"T1","z":0.8},{"r":55,"c":"I2","z":1.4},{"r":55,"c":"I1","z":0.9},{"r":55,"c":"I3","z":0.7},{"r":55,"c":"R2","z":0.1},{"r":55,"c":"R3","z":0.6},{"r":55,"c":"R1","z":-0.1},{"r":55,"c":"M2","z":-1.4},{"r":55,"c":"M3","z":-1},{"r":55,"c":"M1","z":-1.5},
{"r":56,"c":"T2","z":1},{"r":56,"c":"T3","z":0.6},{"r":56,"c":"T1","z":1.5},{"r":56,"c":"I2","z":0.8},{"r":56,"c":"I1","z":1.1},{"r":56,"c":"I3","z":0.4},{"r":56,"c":"R2","z":0.7},{"r":56,"c":"R3","z":0.2},{"r":56,"c":"R1","z":0.8},{"r":56,"c":"M2","z":-1.8},{"r":56,"c":"M3","z":-1.3},{"r":56,"c":"M1","z":-1.1},
{"r":57,"c":"T2","z":1.3},{"r":57,"c":"T3","z":1.1},{"r":57,"c":"T1","z":0.9},{"r":57,"c":"I2","z":1.2},{"r":57,"c":"I1","z":0.7},{"r":57,"c":"I3","z":0.9},{"r":57,"c":"R2","z":0.5},{"r":57,"c":"R3","z":0.9},{"r":57,"c":"R1","z":0.3},{"r":57,"c":"M2","z":-2.2},{"r":57,"c":"M3","z":-1.1},{"r":57,"c":"M1","z":-1.9},
{"r":58,"c":"T2","z":0.6},{"r":58,"c":"T3","z":1.7},{"r":58,"c":"T1","z":1.3},{"r":58,"c":"I2","z":1.5},{"r":58,"c":"I1","z":1.4},{"r":58,"c":"I3","z":0.3},{"r":58,"c":"R2","z":1.1},{"r":58,"c":"R3","z":0.4},{"r":58,"c":"R1","z":-0.2},{"r":58,"c":"M2","z":-1.3},{"r":58,"c":"M3","z":-0.8},{"r":58,"c":"M1","z":-1.4},
{"r":59,"c":"T2","z":1.4},{"r":59,"c":"T3","z":0.8},{"r":59,"c":"T1","z":1.6},{"r":59,"c":"I2","z":0.7},{"r":59,"c":"I1","z":1},{"r":59,"c":"I3","z":0.6},{"r":59,"c":"R2","z":0.6},{"r":59,"c":"R3","z":0.8},{"r":59,"c":"R1","z":0.6},{"r":59,"c":"M2","z":-1.6},{"r":59,"c":"M3","z":-1.4},{"r":59,"c":"M1","z":-1.6},
{"r":60,"c":"T2","z":1.8},{"r":60,"c":"T3","z":1.2},{"r":60,"c":"T1","z":1.1},{"r":60,"c":"I2","z":1.1},{"r":60,"c":"I1","z":1.6},{"r":60,"c":"I3","z":0.2},{"r":60,"c":"R2","z":0.3},{"r":60,"c":"R3","z":0.5},{"r":60,"c":"R1","z":0.4},{"r":60,"c":"M2","z":-0.9},{"r":60,"c":"M3","z":-1},{"r":60,"c":"M1","z":-2.1},
{"r":61,"c":"T2","z":-0.5},{"r":61,"c":"T3","z":-0.9},{"r":61,"c":"T1","z":0.3},{"r":61,"c":"I2","z":-1.6},{"r":61,"c":"I1","z":-1.8},{"r":61,"c":"I3","z":-0.3},{"r":61,"c":"R2","z":1.8},{"r":61,"c":"R3","z":1.6},{"r":61,"c":"R1","z":0.8},{"r":61,"c":"M2","z":1.6},{"r":61,"c":"M3","z":1.9},{"r":61,"c":"M1","z":2.2},
{"r":62,"c":"T2","z":0.6},{"r":62,"c":"T3","z":0.4},{"r":62,"c":"T1","z":-0.8},{"r":62,"c":"I2","z":-1.2},{"r":62,"c":"I1","z":-1.1},{"r":62,"c":"I3","z":-0.6},{"r":62,"c":"R2","z":1.2},{"r":62,"c":"R3","z":0.8},{"r":62,"c":"R1","z":1.2},{"r":62,"c":"M2","z":1.2},{"r":62,"c":"M3","z":1},{"r":62,"c":"M1","z":1.3},
{"r":63,"c":"T2","z":0.2},{"r":63,"c":"T3","z":0.7},{"r":63,"c":"T1","z":0.5},{"r":63,"c":"I2","z":-1.8},{"r":63,"c":"I1","z":-2.8},{"r":63,"c":"I3","z":-1},{"r":63,"c":"R2","z":2.2},{"r":63,"c":"R3","z":1.3},{"r":63,"c":"R1","z":0.9},{"r":63,"c":"M2","z":0.9},{"r":63,"c":"M3","z":1.3},{"r":63,"c":"M1","z":1},
{"r":64,"c":"T2","z":-0.3},{"r":64,"c":"T3","z":0.3},{"r":64,"c":"T1","z":0.9},{"r":64,"c":"I2","z":-1},{"r":64,"c":"I1","z":-1.6},{"r":64,"c":"I3","z":-1.3},{"r":64,"c":"R2","z":1},{"r":64,"c":"R3","z":1.1},{"r":64,"c":"R1","z":1.5},{"r":64,"c":"M2","z":1.4},{"r":64,"c":"M3","z":0.7},{"r":64,"c":"M1","z":1.6},
{"r":65,"c":"T2","z":0.9},{"r":65,"c":"T3","z":0.5},{"r":65,"c":"T1","z":0.6},{"r":65,"c":"I2","z":-1.9},{"r":65,"c":"I1","z":-1.4},{"r":65,"c":"I3","z":-0.7},{"r":65,"c":"R2","z":1.4},{"r":65,"c":"R3","z":0.9},{"r":65,"c":"R1","z":0.7},{"r":65,"c":"M2","z":0.7},{"r":65,"c":"M3","z":1.1},{"r":65,"c":"M1","z":0.8},
{"r":66,"c":"T2","z":0.4},{"r":66,"c":"T3","z":0.9},{"r":66,"c":"T1","z":1},{"r":66,"c":"I2","z":-2.2},{"r":66,"c":"I1","z":-1.9},{"r":66,"c":"I3","z":-1.2},{"r":66,"c":"R2","z":0.9},{"r":66,"c":"R3","z":1.4},{"r":66,"c":"R1","z":1.7},{"r":66,"c":"M2","z":1},{"r":66,"c":"M3","z":0.4},{"r":66,"c":"M1","z":2},
{"r":67,"c":"T2","z":0.8},{"r":67,"c":"T3","z":0.6},{"r":67,"c":"T1","z":0.7},{"r":67,"c":"I2","z":-1.5},{"r":67,"c":"I1","z":-1.2},{"r":67,"c":"I3","z":-1.4},{"r":67,"c":"R2","z":1.5},{"r":67,"c":"R3","z":1},{"r":67,"c":"R1","z":1.1},{"r":67,"c":"M2","z":1.3},{"r":67,"c":"M3","z":0.9},{"r":67,"c":"M1","z":1.4}
]},"mark":{"type":"rect"},"encoding":{"x":{"field":"c","type":"nominal","sort":null,"scale":{"domain":["T2","T3","T1","I2","I1","I3","R2","R3","R1","M2","M3","M1"],"paddingInner":0,"paddingOuter":0},"axis":{"orient":"top","title":null,"labelAngle":0,"labelExpr":"slice(datum.label,1)","labelFontSize":13,"labelColor":"#111","labelPadding":2,"tickSize":0,"domain":false}},"y":{"field":"r","type":"ordinal","scale":{"domain":[1,2,3,4,5,6,7,8,9,10,11,12,13,14,15,16,17,18,19,20,21,22,23,24,25,26,27,28,29,30,31,32,33,34,35,36,37,38,39,40,41,42,43,44,45,46,47,48,49,50,51,52,53,54,55,56,57,58,59,60,61,62,63,64,65,66,67],"paddingInner":0,"paddingOuter":0},"axis":null},"color":{"field":"z","type":"quantitative","scale":{"domain":[-4.2,-2,0,2,3,4.2],"range":["#2068ae","#7ab8dc","#ece7e2","#f09d7c","#dc6a48","#b2182b"],"interpolate":"rgb"},"legend":{"orient":"none","legendX":349,"legendY":4,"direction":"horizontal","title":"Z-score","titleFontSize":8,"titleAnchor":"middle","titleColor":"#222","titlePadding":2,"gradientLength":60.7,"gradientThickness":10,"values":[-4,-2,0,2,4],"labelFontSize":8.5,"labelColor":"#333","labelOffset":10,"labelExpr":"replace(datum.label,'−','-')"}}}}]}]},
{"spacing":22.3,"bounds":"flush","hconcat":[{"width":0.01,"height":0.01,"data":{"name":"blank"},"mark":{"type":"rect","opacity":0},"encoding":{}},{"spacing":158,"bounds":"flush","vconcat":[{"width":0.01,"height":0.01,"data":{"name":"blank"},"mark":{"type":"rect","opacity":0},"encoding":{}},
{"width":396.4,"height":195.5,"title":{"text":"C","anchor":"start","frame":"group","offset":0,"dx":-21.3,"dy":65.7,"fontSize":16,"fontWeight":"bold","color":"black","baseline":"alphabetic"},"layer":[
{"data":{"values":[{"s":"TNF-α","vx":0,"vy":0,"n":1131},{"s":"iRBCL","vx":65.6,"vy":3.3,"n":439}]},"mark":{"type":"point","filled":false,"strokeWidth":1,"opacity":1},"encoding":{"x":{"field":"vx","type":"quantitative","scale":{"domain":[-117.4,279],"nice":false,"zero":false},"axis":null},"y":{"field":"vy","type":"quantitative","scale":{"domain":[-80.5,115],"nice":false,"zero":false},"axis":null},"size":{"field":"n","type":"quantitative","scale":{"domain":[439,1131],"range":[2500,15376]},"legend":null},"color":{"field":"s","type":"nominal","scale":{"domain":["TNF-α","iRBCL","both","title"],"range":["#4f9a0e","#cc1a1a","#222222","#111111"]},"legend":null}}},
{"data":{"values":[{"t":"987","s":"TNF-α","vx":-4.7,"vy":1.3},{"t":"144","s":"both","vx":51.6,"vy":2.7},{"t":"295","s":"iRBCL","vx":76,"vy":2.7}]},"mark":{"type":"text","fontSize":12},"encoding":{"x":{"field":"vx","type":"quantitative"},"y":{"field":"vy","type":"quantitative"},"text":{"field":"t"},"color":{"field":"s","type":"nominal","legend":null}}},
{"data":{"values":[{"t":"TNF-α","s":"TNF-α","vx":-84.7,"vy":37},{"t":"iRBCL","s":"iRBCL","vx":109.3,"vy":29},{"t":"Upregulated DEGs","s":"title","vx":3.6,"vy":74.3}]},"mark":{"type":"text","fontSize":12.8,"fontWeight":"bold"},"encoding":{"x":{"field":"vx","type":"quantitative"},"y":{"field":"vy","type":"quantitative"},"text":{"field":"t"},"color":{"field":"s","type":"nominal","legend":null}}}
]}]}]},
{"spacing":158.3,"bounds":"flush","hconcat":[{"width":0.01,"height":0.01,"data":{"name":"blank"},"mark":{"type":"rect","opacity":0},"encoding":{}},{"spacing":353.5,"bounds":"flush","vconcat":[{"width":0.01,"height":0.01,"data":{"name":"blank"},"mark":{"type":"rect","opacity":0},"encoding":{}},
{"width":124,"height":200,"title":{"text":"987 DEGs","color":"#4f9a0e","fontSize":12.8,"fontWeight":"bold","anchor":"middle","frame":"group","dx":-7.5,"dy":14,"offset":2},"data":{"values":[{"t":"response to type I interferon","p":37.9},{"t":"type I interferon signaling pathway","p":37.2},{"t":"cellular response to type I interferon","p":37.2},{"t":"defense response to virus","p":34.8},{"t":"response to virus","p":32.9},{"t":"response to interferon-gamma","p":32.5},{"t":"cellular response to interferon-gamma","p":25.3},{"t":"interferon-gamma-mediated signaling pathway","p":24.4},{"t":"regulation of defense response","p":21.3},{"t":"regulation of cytokine production","p":20.5},{"t":"negative regulation of viral life cycle","p":19.9},{"t":"regulation of viral life cycle","p":19.7},{"t":"negative regulation of viral process","p":19.5},{"t":"regulation of immune effector process","p":19.5},{"t":"negative regulation of viral genome replication","p":18.3},{"t":"positive regulation of immune response","p":18},{"t":"regulation of response to biotic stimulus","p":16.8},{"t":"positive regulation of response to external stimulus","p":15.7},{"t":"regulation of viral genome replication","p":15.5},{"t":"adaptive immune response","p":15.5}]},"mark":{"type":"bar","color":"black","stroke":"#888","strokeWidth":0.8},"encoding":{"y":{"field":"t","type":"nominal","sort":null,"scale":{"paddingInner":0.1,"paddingOuter":0.05},"axis":{"title":"D","titleX":-157.3,"titleY":1.5,"titleAngle":0,"titleAlign":"left","titleBaseline":"alphabetic","titleFontSize":16,"titleFontWeight":"bold","titleColor":"black","labelFontSize":6.2,"labelColor":"#666","labelLimit":400,"tickSize":2,"tickColor":"#666","domainColor":"#444","labelPadding":1}},"x":{"field":"p","type":"quantitative","scale":{"domain":[0,42.8],"nice":false},"axis":{"values":[0,10,20,30,40],"title":"-log10(p)","titleFontSize":8.5,"titleFontWeight":"normal","titleColor":"#222","titlePadding":2,"labelFontSize":5.5,"labelColor":"#666","tickSize":2,"tickColor":"#666","domainColor":"#555","domainWidth":1,"labelPadding":1,"grid":false}}}}]}]},
{"spacing":559.7,"bounds":"flush","hconcat":[{"width":0.01,"height":0.01,"data":{"name":"blank"},"mark":{"type":"rect","opacity":0},"encoding":{}},{"spacing":353.5,"bounds":"flush","vconcat":[{"width":0.01,"height":0.01,"data":{"name":"blank"},"mark":{"type":"rect","opacity":0},"encoding":{}},
{"width":118.7,"height":200,"title":{"text":"295 DEGs","color":"#c01818","fontSize":12.8,"fontWeight":"bold","anchor":"middle","frame":"group","dx":-6,"dy":14,"offset":2},"data":{"values":[{"t":"nucleosome","p":11.2},{"t":"DNA packaging complex","p":10.8},{"t":"protein heterodimerization activity","p":10.6},{"t":"protein-DNA complex","p":10.57},{"t":"response to endoplasmic reticulum stress","p":10.07},{"t":"growth factor activity","p":9.93},{"t":"response to topologically incorrect protein","p":9.5},{"t":"response to unfolded protein","p":9.32},{"t":"cellular response to topologically incorrect protein","p":9.14},{"t":"regulation of response to endoplasmic reticulum stress","p":9},{"t":"cellular response to unfolded protein","p":8.9},{"t":"intrinsic apoptotic signaling pathway in response to endoplasmic reticulum stress","p":8.29},{"t":"innate immune response in mucosa","p":8.14},{"t":"rhythmic process","p":7.57},{"t":"apoptotic signaling pathway","p":7.46},{"t":"stress response to metal ion","p":7.39},{"t":"mucosal immune response","p":7.32},{"t":"amino acid import across plasma membrane","p":7.14},{"t":"organ or tissue specific immune response","p":6.93},{"t":"misfolded protein binding","p":6.89}]},"mark":{"type":"bar","color":"black","stroke":"#888","strokeWidth":0.8},"encoding":{"y":{"field":"t","type":"nominal","sort":null,"scale":{"paddingInner":0.1,"paddingOuter":0.05},"axis":{"title":"E","titleX":-237,"titleY":1,"titleAngle":0,"titleAlign":"left","titleBaseline":"alphabetic","titleFontSize":16,"titleFontWeight":"bold","titleColor":"black","labelFontSize":6.2,"labelColor":"#666","labelLimit":400,"tickSize":2,"tickColor":"#666","domainColor":"#444","labelPadding":1}},"x":{"field":"p","type":"quantitative","scale":{"domain":[0,12.7],"nice":false},"axis":{"values":[0,2.5,5,7.5,10,12.5],"format":".1f","title":"-log10(p)","titleFontSize":8.5,"titleFontWeight":"normal","titleColor":"#222","titlePadding":2,"labelFontSize":5.5,"labelColor":"#666","tickSize":2,"tickColor":"#666","domainColor":"#555","domainWidth":1,"labelPadding":1,"grid":false}}}}]}]},
{"spacing":160.3,"bounds":"flush","hconcat":[{"width":0.01,"height":0.01,"data":{"name":"blank"},"mark":{"type":"rect","opacity":0},"encoding":{}},{"spacing":598,"bounds":"flush","vconcat":[{"width":0.01,"height":0.01,"data":{"name":"blank"},"mark":{"type":"rect","opacity":0},"encoding":{}},
{"width":122.3,"height":200,"title":{"text":"144 DEGs","color":"#111","fontSize":12.8,"fontWeight":"bold","anchor":"middle","frame":"group","dx":-8.7,"dy":14.5,"offset":3},"data":{"values":[{"t":"response to lipopolysaccharide","p":24.3},{"t":"response to molecule of bacterial origin","p":23.7},{"t":"cellular response to lipopolysaccharide","p":22.8},{"t":"inflammatory response","p":22.7},{"t":"cellular response to molecule of bacterial origin","p":22.3},{"t":"response to bacterium","p":21.6},{"t":"cellular response to biotic stimulus","p":21.3},{"t":"cytokine activity","p":19.1},{"t":"receptor regulator activity","p":17.9},{"t":"cytokine receptor binding","p":17.75},{"t":"receptor ligand activity","p":17.74},{"t":"signaling receptor activator activity","p":17.6},{"t":"regulation of cytokine production","p":16.55},{"t":"cellular response to lipid","p":16.1},{"t":"positive regulation of cellular component movement","p":15.05},{"t":"positive regulation of cell migration","p":14.8},{"t":"positive regulation of cell motility","p":14.45},{"t":"positive regulation of locomotion","p":14.2},{"t":"positive regulation of cytokine production","p":13.85},{"t":"regulation of cell adhesion","p":13.7}]},"mark":{"type":"bar","color":"black","stroke":"#888","strokeWidth":0.8},"encoding":{"y":{"field":"t","type":"nominal","sort":null,"scale":{"paddingInner":0.1,"paddingOuter":0.05},"axis":{"title":"F","titleX":-159.3,"titleY":0.3,"titleAngle":0,"titleAlign":"left","titleBaseline":"alphabetic","titleFontSize":16,"titleFontWeight":"bold","titleColor":"black","labelFontSize":6.2,"labelColor":"#666","labelLimit":400,"tickSize":2,"tickColor":"#666","domainColor":"#444","labelPadding":1}},"x":{"field":"p","type":"quantitative","scale":{"domain":[0,27.5],"nice":false},"axis":{"values":[0,10,20],"title":"-log10(p)","titleFontSize":8.5,"titleFontWeight":"normal","titleColor":"#222","titlePadding":1,"labelFontSize":5.5,"labelColor":"#666","tickSize":2,"tickColor":"#666","domainColor":"#555","domainWidth":1,"labelPadding":1,"grid":false}}}}]}]},
{"spacing":332.7,"bounds":"flush","hconcat":[{"width":0.01,"height":0.01,"data":{"name":"blank"},"mark":{"type":"rect","opacity":0},"encoding":{}},{"spacing":598,"bounds":"flush","vconcat":[{"width":0.01,"height":0.01,"data":{"name":"blank"},"mark":{"type":"rect","opacity":0},"encoding":{}},
{"width":363,"height":136.3,"title":{"text":"G","anchor":"start","frame":"group","offset":0,"dx":-9.4,"dy":16,"fontSize":16,"fontWeight":"bold","color":"black","baseline":"alphabetic"},"layer":[
{"data":{"values":[{"x0":0,"x1":115.6,"y0":0,"y1":20.6,"k":"head"},{"x0":115.6,"x1":363,"y0":0,"y1":20.6,"k":"head"},{"x0":0,"x1":115.6,"y0":20.6,"y1":122.6,"k":"body"},{"x0":115.6,"x1":363,"y0":20.6,"y1":122.6,"k":"body"}]},"mark":{"type":"rect","stroke":"#999","strokeWidth":1},"encoding":{"x":{"field":"x0","type":"quantitative","scale":{"domain":[0,363],"nice":false,"zero":false},"axis":null},"x2":{"field":"x1"},"y":{"field":"y0","type":"quantitative","scale":{"domain":[122.6,-13.7],"nice":false,"zero":false},"axis":null},"y2":{"field":"y1"},"color":{"field":"k","type":"nominal","scale":{"domain":["head","body"],"range":["#e6e6e6","#ffffff"]},"legend":null}}},
{"data":{"values":[{"t":"Pathway","tx":58.3,"ty":10},{"t":"Genes","tx":239.6,"ty":10},{"t":"response to","tx":58.3,"ty":65.3},{"t":"lipopolysaccharide","tx":58.3,"ty":79.3}]},"mark":{"type":"text","fontWeight":"bold","fontSize":11.4,"color":"#111"},"encoding":{"x":{"field":"tx","type":"quantitative"},"y":{"field":"ty","type":"quantitative"},"text":{"field":"t"}}},
{"data":{"values":[{"t":"CSF2, CXCL1, CXCL2, CXCL3, ICAM1, IL1A,","tx":239.6,"ty":37},{"t":"IL1B, IL6, CXCL8,IRAK2, NFKB1, NFKB2,","tx":239.6,"ty":51},{"t":"NFKBIA, NFKBIB, PTGS2, CCL2, CXCL6,","tx":239.6,"ty":64.4},{"t":"CX3CL1, SELE, TNF, TNFAIP3,  XBP1, RIPK2,","tx":239.6,"ty":78.6},{"t":"CLDN1, TRIB1, NOCT, CD274, TNIP3,","tx":239.6,"ty":92.6},{"t":"ZC3H12A","tx":239.6,"ty":106.4}]},"mark":{"type":"text","fontStyle":"italic","fontSize":11.6,"color":"#222"},"encoding":{"x":{"field":"tx","type":"quantitative"},"y":{"field":"ty","type":"quantitative"},"text":{"field":"t"}}}
]}]}]}
]}
